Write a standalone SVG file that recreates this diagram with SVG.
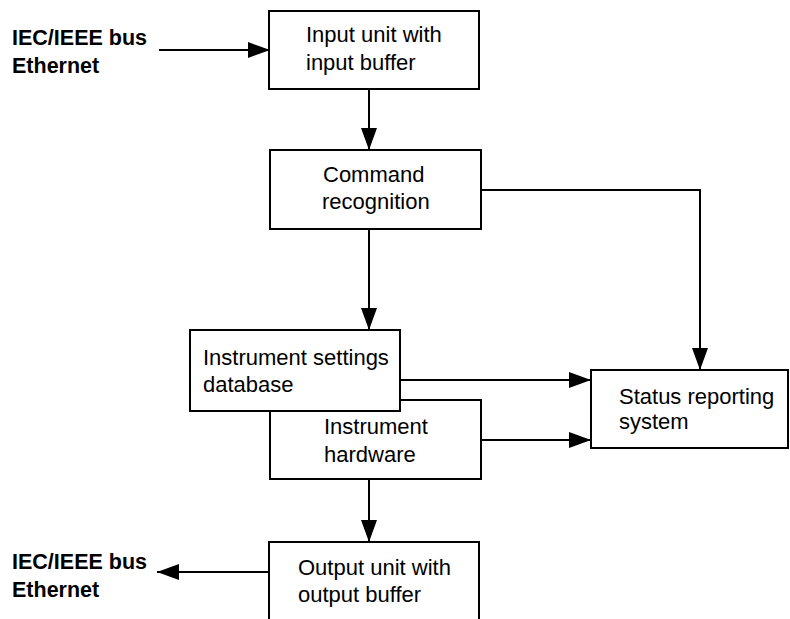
<svg xmlns="http://www.w3.org/2000/svg" width="790" height="619" viewBox="0 0 790 619">
<style>
.box{fill:#fff;stroke:#000;stroke-width:2}
.t{font-family:"Liberation Sans",Arial,sans-serif;font-size:22px;fill:#000}
.b{font-family:"Liberation Sans",Arial,sans-serif;font-size:21.5px;font-weight:bold;fill:#000}
.c{fill:none;stroke:#000;stroke-width:2}
</style>
<defs>
<marker id="ah" markerUnits="userSpaceOnUse" markerWidth="22" markerHeight="16" refX="22" refY="8" orient="auto">
<path d="M0,0 L22,8 L0,16 z" fill="#000"/>
</marker>
</defs>
<rect width="790" height="619" fill="#fff"/>
<g id="connectors">
<line class="c" x1="159" y1="50" x2="270" y2="50" marker-end="url(#ah)"/>
<line class="c" x1="369" y1="89" x2="369" y2="150" marker-end="url(#ah)"/>
<line class="c" x1="369" y1="229" x2="369" y2="330" marker-end="url(#ah)"/>
<polyline class="c" points="481,190 700,190 700,370" marker-end="url(#ah)"/>
<line class="c" x1="400" y1="380" x2="591" y2="380" marker-end="url(#ah)"/>
<line class="c" x1="481" y1="440" x2="591" y2="440" marker-end="url(#ah)"/>
<line class="c" x1="369" y1="479" x2="369" y2="542" marker-end="url(#ah)"/>
<line class="c" x1="269" y1="572" x2="157" y2="572" marker-end="url(#ah)"/>
</g>
<g id="label-in">
<text class="b" x="12" y="45">IEC/IEEE bus</text>
<text class="b" x="12" y="73">Ethernet</text>
</g>
<g id="input-unit">
<rect class="box" x="269" y="11" width="210" height="78"/>
<text class="t" x="306" y="42">Input unit with</text>
<text class="t" x="306" y="70">input buffer</text>
</g>
<g id="command-recognition">
<rect class="box" x="270" y="150" width="211" height="79"/>
<text class="t" x="323" y="182">Command</text>
<text class="t" x="322" y="209">recognition</text>
</g>
<g id="instrument-hardware">
<rect class="box" x="270" y="400" width="211" height="79"/>
<text class="t" x="324" y="434">Instrument</text>
<text class="t" x="324" y="462">hardware</text>
</g>
<g id="instrument-settings">
<rect class="box" x="190" y="330" width="210" height="81"/>
<text class="t" x="203" y="365">Instrument settings</text>
<text class="t" x="203" y="392">database</text>
</g>
<g id="status-reporting">
<rect class="box" x="591" y="370" width="197" height="78"/>
<text class="t" x="619" y="404">Status reporting</text>
<text class="t" x="619" y="429">system</text>
</g>
<g id="output-unit">
<rect class="box" x="269" y="542" width="210" height="90"/>
<text class="t" x="298" y="575">Output unit with</text>
<text class="t" x="298" y="602">output buffer</text>
</g>
<g id="label-out">
<text class="b" x="12" y="569">IEC/IEEE bus</text>
<text class="b" x="12" y="597">Ethernet</text>
</g>
</svg>
